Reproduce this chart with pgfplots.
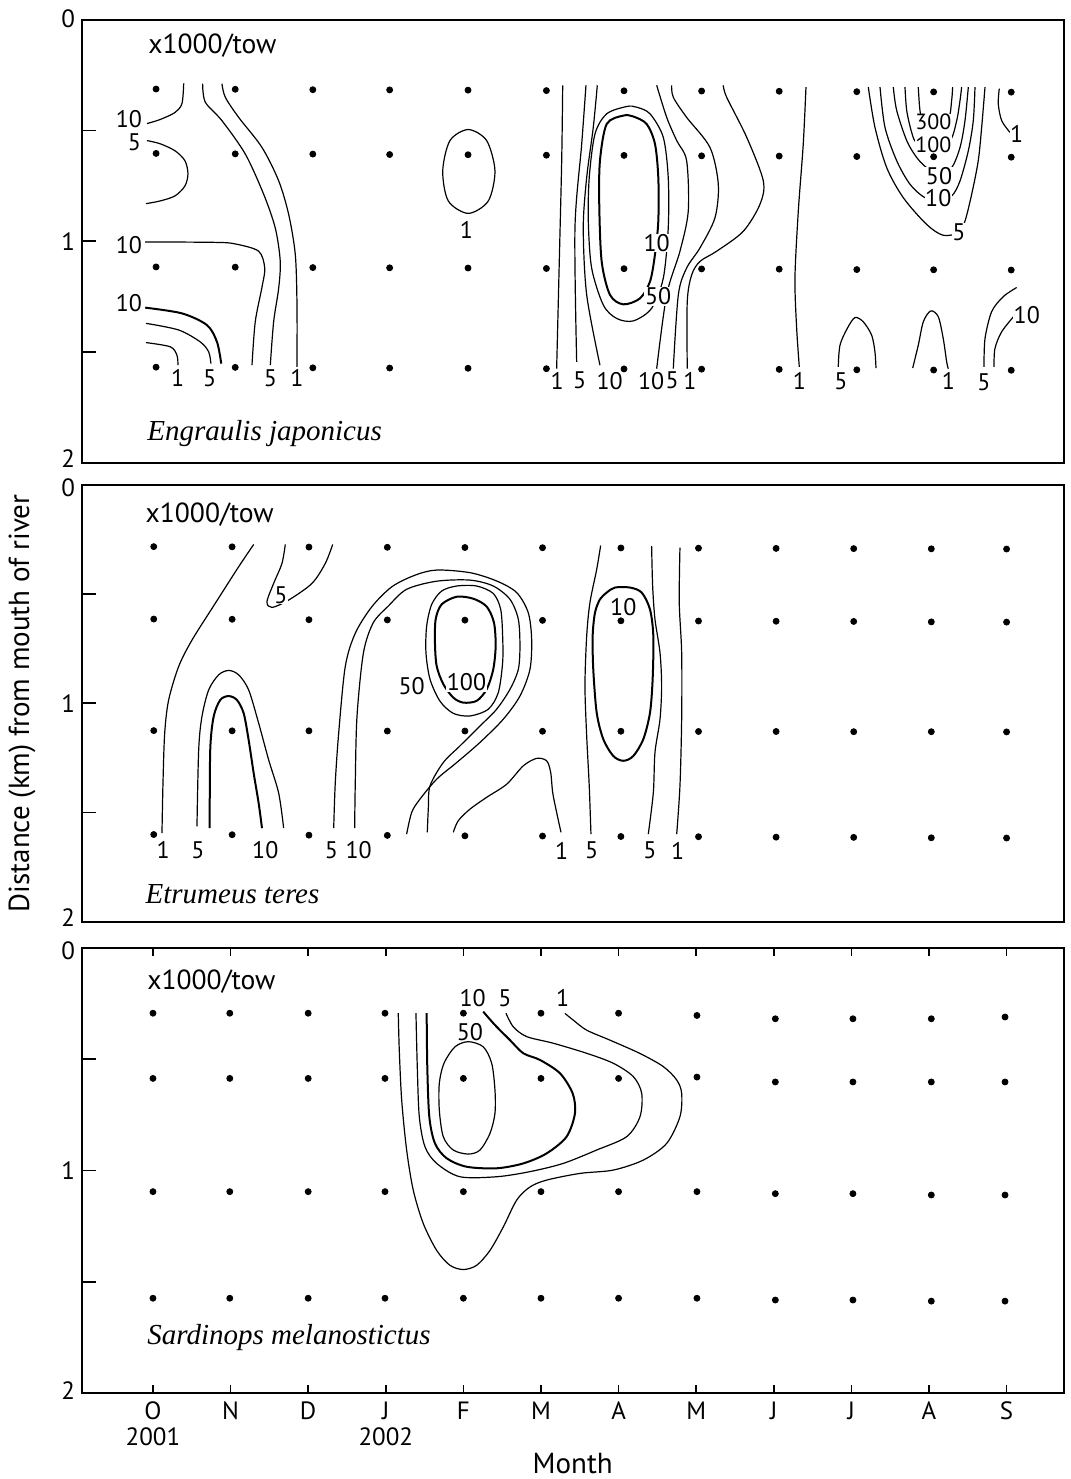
\documentclass[border=0pt]{standalone}
\usepackage{pgfplots}
\pgfplotsset{compat=1.18}
\usepackage{fontspec}
\setmainfont{PT Sans}
\newfontfamily\spfont{Liberation Serif}
\pgfplotsset{
  panel/.style={
    scale only axis, width=491.25pt,
    xmin=-0.921, xmax=11.74, ymin=0, ymax=2, y dir=reverse,
    axis line style={line width=1pt},
    ytick={0,0.5,1,1.5,2},
    ytick pos=left, tick align=inside, major tick length=7pt,
    tick style={line width=0.8pt, black},
    yticklabel style={font=\fontsize{12.5}{13}\selectfont, inner sep=0.6pt, xshift=-2.4pt, anchor=base east, yshift=-4.4pt},
    xtick=\empty,
  },
  cl/.style={black, line width=0.6pt, smooth},
  clb/.style={black, line width=1pt, smooth},
  dots/.style={only marks, mark=*, mark size=1.5pt, black},
}
\tikzset{
  lab/.style={font=\fontsize{12}{13}\selectfont, fill=white, inner sep=0.3pt},
  labs/.style={font=\fontsize{11}{12}\selectfont, fill=white, inner sep=0.2pt},
  ttl/.style={font=\fontsize{13.8}{15}\selectfont, anchor=west, inner sep=0pt},
  spn/.style={font=\spfont\itshape\fontsize{14.5}{16}\selectfont, anchor=base west, inner sep=0pt},
}
\begin{document}
\begin{tikzpicture}
\useasboundingbox (0,0) rectangle (535.5pt,-739.5pt);
% ---------------- Panel 1: Engraulis japonicus
\begin{axis}[panel, at={(40.75pt,-10pt)}, anchor=north west, height=221.25pt,
  yticklabels={\raisebox{0.5pt}{0},,1,,\raisebox{2pt}{2}}]
\addplot[cl] coordinates {(0.396,0.286) (0.374,0.377) (0.284,0.418) (0.09,0.45) (-0.077,0.468)};
\addplot[cl] coordinates {(-0.077,0.545) (0.09,0.559) (0.284,0.591) (0.412,0.636) (0.451,0.695) (0.412,0.75) (0.284,0.795) (0.09,0.818) (-0.09,0.83)};
\addplot[cl] coordinates {(-0.1,1.003) (0.8,1.005) (1.06,1.012) (1.362,1.045) (1.44,1.121) (1.405,1.207) (1.318,1.364) (1.276,1.56)};
\addplot[clb] coordinates {(-0.1,1.3) (0.374,1.326) (0.696,1.379) (0.825,1.455) (0.88,1.553)};
\addplot[cl] coordinates {(-0.09,1.371) (0.331,1.401) (0.61,1.455) (0.718,1.5) (0.747,1.553)};
\addplot[cl] coordinates {(-0.09,1.458) (0.223,1.477) (0.309,1.515) (0.322,1.56)};
\addplot[cl] coordinates {(0.64,0.288) (0.674,0.371) (0.889,0.455) (1.19,0.606) (1.427,0.788) (1.576,0.94) (1.64,1.09) (1.62,1.212) (1.555,1.364) (1.512,1.56)};
\addplot[cl] coordinates {(0.889,0.288) (0.932,0.349) (1.104,0.44) (1.405,0.576) (1.62,0.727) (1.749,0.879) (1.834,1.06) (1.856,1.288) (1.856,1.568)};
\addplot[cl, smooth cycle] coordinates {(4.063,0.495) (4.3,0.545) (4.407,0.682) (4.321,0.818) (4.063,0.874) (3.806,0.818) (3.734,0.682) (3.827,0.545)};
\addplot[cl] coordinates {(5.28,0.295) (5.267,0.636) (5.236,1.091) (5.202,1.576)};
\addplot[cl] coordinates {(5.58,0.295) (5.525,0.56) (5.438,0.94) (5.46,1.545)};
\addplot[cl] coordinates {(5.726,0.295) (5.674,0.485) (5.589,0.712) (5.545,0.94) (5.589,1.242) (5.76,1.56)};
\addplot[cl] coordinates {(6.491,0.295) (6.62,0.44) (6.749,0.545) (6.877,0.636) (6.898,0.864) (6.791,1.045) (6.62,1.242) (6.491,1.576)};
\addplot[cl] coordinates {(6.684,0.295) (6.705,0.349) (6.877,0.44) (7.178,0.576) (7.285,0.742) (7.242,0.894) (7.049,1.03) (6.877,1.121) (6.77,1.242) (6.705,1.576)};
\addplot[cl] coordinates {(7.349,0.295) (7.393,0.349) (7.651,0.53) (7.865,0.727) (7.822,0.833) (7.607,0.955) (7.264,1.045) (7.049,1.091) (6.942,1.152) (6.885,1.273) (6.885,1.576)};
\addplot[clb, smooth cycle] coordinates {(6.061,0.432) (5.847,0.47) (5.76,0.636) (5.751,0.833) (5.782,1.091) (5.889,1.242) (6.061,1.285) (6.276,1.258) (6.405,1.182) (6.469,1.06) (6.512,0.909) (6.512,0.712) (6.469,0.56) (6.362,0.47) (6.189,0.436)};
\addplot[cl, smooth cycle] coordinates {(6.104,0.391) (5.847,0.424) (5.696,0.515) (5.622,0.712) (5.61,0.909) (5.653,1.121) (5.803,1.288) (5.976,1.349) (6.189,1.36) (6.426,1.303) (6.576,1.167) (6.64,0.94) (6.64,0.712) (6.576,0.53) (6.405,0.424) (6.233,0.394)};
\addplot[cl] coordinates {(8.415,0.303) (8.38,0.56) (8.316,0.864) (8.273,1.167) (8.295,1.394) (8.329,1.568)};
\addplot[cl] coordinates {(9.218,0.303) (9.304,0.485) (9.455,0.667) (9.669,0.803) (9.97,0.924) (10.184,0.973) (10.387,0.96) (10.464,0.909) (10.55,0.788) (10.635,0.636) (10.679,0.485) (10.722,0.303)};
\addplot[cl] coordinates {(9.369,0.303) (9.433,0.485) (9.584,0.636) (9.755,0.742) (9.948,0.803) (10.12,0.806) (10.292,0.795) (10.4,0.727) (10.507,0.591) (10.571,0.455) (10.593,0.303)};
\addplot[cl] coordinates {(9.54,0.303) (9.584,0.409) (9.713,0.545) (9.841,0.621) (9.97,0.667) (10.13,0.69) (10.292,0.667) (10.4,0.576) (10.464,0.455) (10.507,0.303)};
\addplot[cl] coordinates {(9.691,0.303) (9.713,0.409) (9.777,0.508) (9.841,0.553) (10.056,0.56) (10.271,0.545) (10.357,0.455) (10.4,0.364) (10.421,0.303)};
\addplot[cl] coordinates {(9.862,0.303) (9.884,0.409) (9.927,0.462) (10.056,0.477) (10.249,0.447) (10.292,0.364) (10.305,0.303)};
\addplot[cl] coordinates {(10.906,0.31) (10.893,0.379) (10.937,0.455) (11.044,0.508)};
\addplot[cl] coordinates {(8.831,1.568) (8.853,1.47) (8.947,1.394) (9.046,1.345) (9.153,1.364) (9.261,1.424) (9.304,1.5) (9.317,1.573)};
\addplot[cl] coordinates {(9.79,1.573) (9.862,1.47) (9.927,1.364) (10.022,1.315) (10.12,1.341) (10.184,1.44) (10.228,1.545) (10.249,1.576)};
\addplot[cl] coordinates {(10.709,1.568) (10.722,1.44) (10.808,1.318) (10.958,1.25) (11.13,1.209)};
\addplot[cl] coordinates {(10.838,1.568) (10.85,1.485) (10.937,1.409) (11.108,1.333)};
\node[lab] at (axis cs:-0.31,0.45) {10};
\node[lab] at (axis cs:-0.24,0.553) {5};
\node[lab] at (axis cs:-0.31,1.018) {10};
\node[lab] at (axis cs:-0.31,1.28) {10};
\node[lab] at (axis cs:0.318,1.618) {1};
\node[lab] at (axis cs:0.73,1.62) {5};
\node[lab] at (axis cs:1.512,1.621) {5};
\node[lab] at (axis cs:1.856,1.62) {1};
\node[lab] at (axis cs:4.04,0.947) {1};
\node[lab] at (axis cs:5.21,1.63) {1};
\node[lab] at (axis cs:5.50,1.63) {5};
\node[lab] at (axis cs:5.885,1.63) {10};
\node[lab] at (axis cs:6.42,1.63) {10};
\node[lab] at (axis cs:6.69,1.63) {5};
\node[lab] at (axis cs:6.92,1.63) {1};
\node[lab] at (axis cs:6.49,1.008) {10};
\node[lab] at (axis cs:6.51,1.25) {50};
\node[lab] at (axis cs:8.33,1.63) {1};
\node[lab] at (axis cs:10.387,0.96) {5};
\node[lab] at (axis cs:10.12,0.806) {10};
\node[lab] at (axis cs:10.13,0.705) {50};
\node[labs] at (axis cs:10.056,0.563) {100};
\node[labs] at (axis cs:10.056,0.462) {300};
\node[lab] at (axis cs:11.13,0.515) {1};
\node[lab] at (axis cs:8.866,1.633) {5};
\node[lab] at (axis cs:10.25,1.633) {1};
\node[lab] at (axis cs:10.709,1.636) {5};
\node[lab] at (axis cs:11.26,1.333) {10};
\addplot[dots] coordinates {
(0.04,0.312)(1.06,0.313)(2.06,0.315)(3.05,0.316)(4.06,0.317)(5.07,0.319)(6.07,0.320)(7.07,0.321)(8.07,0.322)(9.07,0.324)(10.06,0.325)(11.06,0.326)
(0.04,0.603)(1.06,0.605)(2.06,0.606)(3.05,0.608)(4.06,0.609)(5.07,0.611)(6.07,0.612)(7.07,0.614)(8.07,0.615)(9.07,0.617)(10.06,0.618)(11.06,0.620)
(0.04,1.116)(1.06,1.117)(2.06,1.119)(3.05,1.120)(4.06,1.121)(5.07,1.123)(6.07,1.124)(7.07,1.125)(8.07,1.126)(9.07,1.128)(10.06,1.129)(11.06,1.130)
(0.04,1.569)(1.06,1.570)(2.06,1.572)(3.05,1.573)(4.06,1.574)(5.07,1.576)(6.07,1.577)(7.07,1.578)(8.07,1.579)(9.07,1.581)(10.06,1.582)(11.06,1.583)};
\node[ttl] at (axis cs:-0.064,0.115) {x1000/tow};
\node[spn] at (axis cs:-0.077,1.90) {Engraulis japonicus};
\end{axis}
% ---------------- Panel 2: Etrumeus teres
\begin{axis}[panel, at={(40.75pt,-242.25pt)}, anchor=north west, height=218.75pt,
  yticklabels={\raisebox{-1.5pt}{0},,1,,\raisebox{2pt}{2}},
  ylabel={Distance (km) from mouth of river},
  ylabel style={at={(axis description cs:-0.0606,0.5)}, anchor=center, font=\fontsize{14.5}{16}\selectfont}]
\addplot[cl] coordinates {(1.298,0.274) (1.104,0.376) (0.803,0.543) (0.503,0.711) (0.331,0.832) (0.202,0.985) (0.151,1.137) (0.129,1.365) (0.116,1.594)};
\addplot[cl] coordinates {(1.705,0.274) (1.662,0.361) (1.555,0.452) (1.469,0.536) (1.534,0.562) (1.749,0.528) (2.049,0.452) (2.22,0.361) (2.316,0.274)};
\addplot[cl] coordinates {(0.567,1.563) (0.589,1.213) (0.631,1.061) (0.718,0.939) (0.847,0.87) (0.976,0.85) (1.104,0.87) (1.233,0.939) (1.362,1.091) (1.491,1.259) (1.62,1.411) (1.684,1.571)};
\addplot[clb] coordinates {(0.731,1.571) (0.738,1.213) (0.782,1.061) (0.867,0.985) (0.976,0.967) (1.082,0.985) (1.169,1.046) (1.233,1.168) (1.298,1.32) (1.362,1.457) (1.405,1.571)};
\addplot[cl] coordinates {(2.329,1.571) (2.349,1.365) (2.393,1.137) (2.478,0.832) (2.607,0.68) (2.822,0.558) (3.08,0.467) (3.38,0.414) (3.656,0.391) (4.085,0.403) (4.429,0.441) (4.687,0.494) (4.836,0.586) (4.88,0.708) (4.858,0.845) (4.729,0.967) (4.514,1.073) (4.214,1.179) (3.914,1.271) (3.656,1.347) (3.441,1.438) (3.334,1.499) (3.269,1.598)};
\addplot[cl] coordinates {(2.599,1.571) (2.607,1.365) (2.629,1.061) (2.712,0.77) (2.839,0.632) (3.032,0.556) (3.269,0.479) (3.656,0.442) (4.085,0.437) (4.385,0.464) (4.601,0.525) (4.708,0.616) (4.729,0.738) (4.708,0.845) (4.601,0.936) (4.429,1.027) (4.214,1.104) (3.956,1.195) (3.741,1.271) (3.57,1.378) (3.548,1.484) (3.535,1.59)};
\addplot[cl] coordinates {(3.87,1.59) (3.934,1.537) (4.085,1.484) (4.3,1.43) (4.558,1.37) (4.772,1.286) (4.944,1.252) (5.073,1.263) (5.125,1.316) (5.151,1.408) (5.202,1.499) (5.258,1.59)};
\addplot[clb, smooth cycle] coordinates {(3.914,0.513) (4.128,0.522) (4.3,0.558) (4.394,0.631) (4.416,0.738) (4.385,0.845) (4.3,0.936) (4.171,0.989) (3.999,0.997) (3.87,0.974) (3.742,0.913) (3.656,0.83) (3.634,0.723) (3.643,0.616) (3.72,0.548)};
\addplot[cl, smooth cycle] coordinates {(3.914,0.464) (4.171,0.464) (4.385,0.498) (4.481,0.571) (4.506,0.693) (4.506,0.814) (4.45,0.951) (4.321,1.027) (4.085,1.058) (3.87,1.046) (3.698,0.99) (3.57,0.89) (3.518,0.769) (3.527,0.647) (3.592,0.548) (3.72,0.487)};
\addplot[cl] coordinates {(5.769,0.279) (5.718,0.388) (5.631,0.54) (5.589,0.693) (5.567,0.921) (5.589,1.149) (5.622,1.378) (5.644,1.598)};
\addplot[clb, smooth cycle] coordinates {(5.847,0.494) (5.954,0.471) (6.147,0.471) (6.298,0.494) (6.405,0.571) (6.448,0.693) (6.439,0.89) (6.405,1.043) (6.319,1.164) (6.19,1.241) (6.061,1.263) (5.932,1.241) (5.803,1.164) (5.718,1.043) (5.674,0.845) (5.666,0.693) (5.696,0.586) (5.76,0.525)};
\addplot[cl] coordinates {(6.426,0.282) (6.439,0.464) (6.469,0.616) (6.534,0.769) (6.555,0.921) (6.534,1.073) (6.469,1.225) (6.448,1.408) (6.383,1.598)};
\addplot[cl] coordinates {(6.791,0.289) (6.782,0.54) (6.813,0.769) (6.813,1.073) (6.791,1.378) (6.749,1.598)};
\node[lab] at (axis cs:0.13,1.67) {1};
\node[lab] at (axis cs:1.65,0.505) {5};
\node[lab] at (axis cs:0.58,1.67) {5};
\node[lab] at (axis cs:1.447,1.67) {10};
\node[lab] at (axis cs:2.298,1.67) {5};
\node[lab] at (axis cs:2.65,1.67) {10};
\node[lab] at (axis cs:5.267,1.674) {1};
\node[lab] at (axis cs:3.334,0.921) {50};
\node[lab] at (axis cs:4.04,0.905) {100};
\node[lab] at (axis cs:5.653,1.674) {5};
\node[lab] at (axis cs:6.061,0.56) {10};
\node[lab] at (axis cs:6.405,1.674) {5};
\node[lab] at (axis cs:6.76,1.674) {1};
\addplot[dots] coordinates {
(0.01,0.284)(1.02,0.285)(2.01,0.286)(3.02,0.287)(4.02,0.288)(5.02,0.289)(6.03,0.290)(7.03,0.291)(8.03,0.292)(9.03,0.293)(10.03,0.294)(11.0,0.295)
(0.01,0.615)(1.02,0.616)(2.01,0.618)(3.02,0.619)(4.02,0.620)(5.02,0.621)(6.03,0.623)(7.03,0.624)(8.03,0.625)(9.03,0.626)(10.03,0.628)(11.0,0.629)
(0.01,1.125)(1.02,1.126)(2.01,1.126)(3.02,1.127)(4.02,1.127)(5.02,1.128)(6.03,1.128)(7.03,1.129)(8.03,1.129)(9.03,1.130)(10.03,1.130)(11.0,1.131)
(0.01,1.600)(1.02,1.601)(2.01,1.603)(3.02,1.604)(4.02,1.606)(5.02,1.607)(6.03,1.609)(7.03,1.610)(8.03,1.612)(9.03,1.613)(10.03,1.615)(11.0,1.616)};
\node[ttl] at (axis cs:-0.099,0.139) {x1000/tow};
\node[spn] at (axis cs:-0.099,1.915) {Etrumeus teres};
\end{axis}
% ---------------- Panel 3: Sardinops melanostictus
\begin{axis}[panel, at={(40.75pt,-474pt)}, anchor=north west, height=222.5pt,
  yticklabels={\raisebox{-1.5pt}{0},,1,,\raisebox{1pt}{2}},
  xtick={0,1,2,3,4,5,6,7,8,9,10,11},
  xticklabels={{O\\2001},N,D,{J\\2002},F,M,A,M,J,J,A,S},
  xticklabel style={align=center, font=\fontsize{12.5}{13}\selectfont, yshift=-1pt},
  xtick style={/pgfplots/major tick length=4pt},
  xlabel={Month},
  xlabel style={at={(axis description cs:0.5,-0.158)}, anchor=center, font=\fontsize{14.5}{16}\selectfont}]
\addplot[cl] coordinates {(3.161,0.293) (3.174,0.458) (3.205,0.683) (3.269,0.908) (3.354,1.088) (3.483,1.238) (3.656,1.359) (3.827,1.426) (3.999,1.445) (4.171,1.426) (4.343,1.359) (4.514,1.254) (4.687,1.133) (4.858,1.074) (5.073,1.043) (5.502,1.013) (5.932,0.998) (6.319,0.953) (6.62,0.878) (6.791,0.758) (6.813,0.653) (6.749,0.593) (6.577,0.533) (6.276,0.474) (5.889,0.414) (5.588,0.369) (5.416,0.324) (5.309,0.294)};
\addplot[cl] coordinates {(3.389,0.293) (3.406,0.533) (3.432,0.758) (3.505,0.893) (3.656,0.968) (3.956,1.028) (4.429,1.028) (4.858,1.005) (5.287,0.968) (5.717,0.908) (6.104,0.848) (6.276,0.758) (6.298,0.653) (6.19,0.578) (5.932,0.518) (5.588,0.473) (5.159,0.428) (4.815,0.398) (4.643,0.354) (4.549,0.293)};
\addplot[clb] coordinates {(3.527,0.293) (3.535,0.533) (3.561,0.758) (3.634,0.878) (3.785,0.945) (4.042,0.983) (4.429,0.99) (4.772,0.968) (5.073,0.923) (5.33,0.848) (5.438,0.743) (5.408,0.653) (5.245,0.563) (4.987,0.503) (4.772,0.473) (4.601,0.414) (4.407,0.346) (4.256,0.286)};
\addplot[cl, smooth cycle] coordinates {(4.063,0.421) (4.256,0.444) (4.365,0.518) (4.407,0.638) (4.407,0.743) (4.343,0.833) (4.214,0.908) (4.063,0.926) (3.87,0.908) (3.741,0.848) (3.69,0.728) (3.69,0.608) (3.75,0.518) (3.892,0.444)};
\node[lab] at (axis cs:5.28,0.226) {1};
\node[lab] at (axis cs:4.536,0.226) {5};
\node[lab] at (axis cs:4.12,0.226) {10};
\node[lab] at (axis cs:4.085,0.378) {50};
\addplot[dots] coordinates {
(0,0.293)(0.99,0.293)(2.0,0.293)(2.99,0.293)(4.0,0.293)(5.0,0.293)(6.0,0.293)(7.01,0.303)(8.02,0.318)(9.02,0.318)(10.03,0.318)(10.98,0.31)
(0,0.586)(0.99,0.586)(2.0,0.586)(2.99,0.586)(4.0,0.586)(5.0,0.586)(6.0,0.586)(7.01,0.58)(8.02,0.602)(9.02,0.602)(10.03,0.602)(10.98,0.602)
(0,1.095)(0.99,1.095)(2.0,1.095)(2.99,1.095)(4.0,1.095)(5.0,1.095)(6.0,1.095)(7.01,1.095)(8.02,1.104)(9.02,1.104)(10.03,1.11)(10.98,1.11)
(0,1.574)(0.99,1.574)(2.0,1.574)(2.99,1.574)(4.0,1.574)(5.0,1.574)(6.0,1.574)(7.01,1.574)(8.02,1.582)(9.02,1.582)(10.03,1.587)(10.98,1.587)};
\node[ttl] at (axis cs:-0.077,0.153) {x1000/tow};
\node[spn] at (axis cs:-0.077,1.78) {Sardinops melanostictus};
\end{axis}
\end{tikzpicture}
\end{document}
